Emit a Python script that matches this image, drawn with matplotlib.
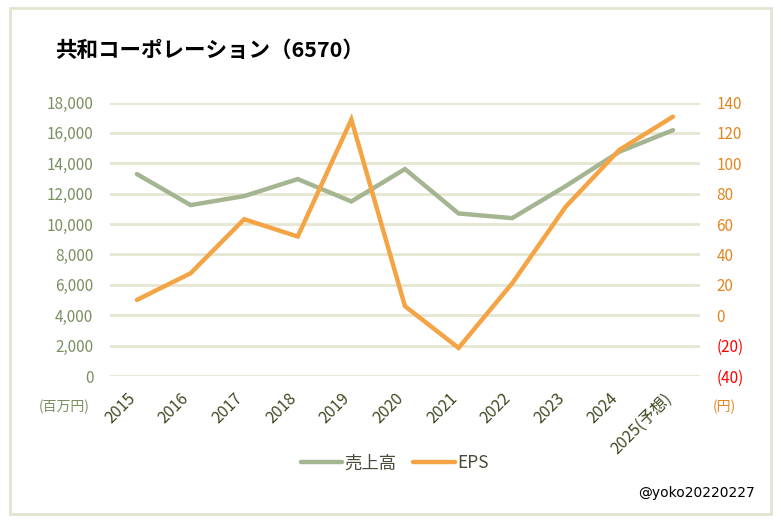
import matplotlib.pyplot as plt
from matplotlib.patches import Rectangle
from matplotlib.ticker import FuncFormatter
from matplotlib.transforms import ScaledTranslation

plt.rcParams['font.family'] = ['Noto Sans CJK JP', 'DejaVu Sans']

years = ['2015', '2016', '2017', '2018', '2019', '2020', '2021', '2022',
         '2023', '2024', '2025(予想)']
sales = [13290, 11250, 11840, 12960, 11490, 13620, 10700, 10390, 12500,
         14760, 16180]
eps = [10.1, 27.6, 63.2, 51.8, 128.8, 6.0, -21.5, 21.0, 71.5, 108.8, 130.7]

GREEN = '#A5B592'
ORANGE = '#F4A444'
GRID = '#E6E6D3'

fig = plt.figure(figsize=(7.81, 5.23), dpi=100)
ax = fig.add_axes([0.141, 0.281, 0.755, 0.523])
ax2 = ax.twinx()

x = list(range(len(years)))
l1, = ax.plot(x, sales, color=GREEN, lw=3.2, solid_capstyle='round',
              solid_joinstyle='miter', label='売上高', zorder=3)
l2, = ax2.plot(x, eps, color=ORANGE, lw=3.2, solid_capstyle='round',
               solid_joinstyle='miter', label='EPS', zorder=3)

ax.set_xlim(-0.5, len(years) - 0.5)
ax.set_ylim(0, 18000)
ax.set_yticks(range(0, 18001, 2000))
ax.yaxis.set_major_formatter(FuncFormatter(lambda v, p: f'{int(v):,}'))
ax.grid(axis='y', color=GRID, lw=2)
ax.set_axisbelow(True)

ax2.set_ylim(-40, 140)
ax2.set_yticks(range(-40, 141, 20))
ax2.set_yticklabels([f'({-v})' if v < 0 else str(v) for v in range(-40, 141, 20)])
for t, v in zip(ax2.get_yticklabels(), range(-40, 141, 20)):
    t.set_color('#FF0000' if v < 0 else '#E38520')

for a in (ax, ax2):
    for s in a.spines.values():
        s.set_visible(False)
    a.tick_params(length=0)

ax.tick_params(axis='y', labelsize=11, labelcolor='#7A9060', pad=12)
ax2.tick_params(axis='y', labelsize=11, pad=12)

ax.set_xticks(x)
ax.set_xticklabels(years, rotation=45, ha='right', rotation_mode='anchor',
                   fontsize=11.5, color='#3F4A22')
ax.tick_params(axis='x', pad=10)
shift = ScaledTranslation(-10 / 100, 0, fig.dpi_scale_trans)
for t in ax.get_xticklabels():
    t.set_transform(t.get_transform() + shift)

fig.text(0.07, 0.904, '共和コーポレーション（6570）', fontsize=15.5,
         fontweight='bold', ha='left', va='center')
fig.text(0.115, 0.222, '(百万円)', fontsize=10, color='#7A9060',
         ha='right', va='center')
fig.text(0.912, 0.222, '(円)', fontsize=10, color='#E38520',
         ha='left', va='center')
fig.text(0.967, 0.057, '@yoko20220227', fontsize=10, ha='right',
         va='center', family='DejaVu Sans')

fig.legend(handles=[l1, l2], loc='center', bbox_to_anchor=(0.505, 0.114),
           ncol=2, frameon=False, fontsize=12.5, handlelength=2.4,
           handletextpad=0.1, columnspacing=1.0, labelcolor='#4A4A3A')

fig.patches.append(Rectangle((0.013, 0.017), 0.974, 0.968,
                             transform=fig.transFigure, fill=False,
                             edgecolor='#E3E3D1', lw=2))

fig.savefig('out.png', dpi=100)
